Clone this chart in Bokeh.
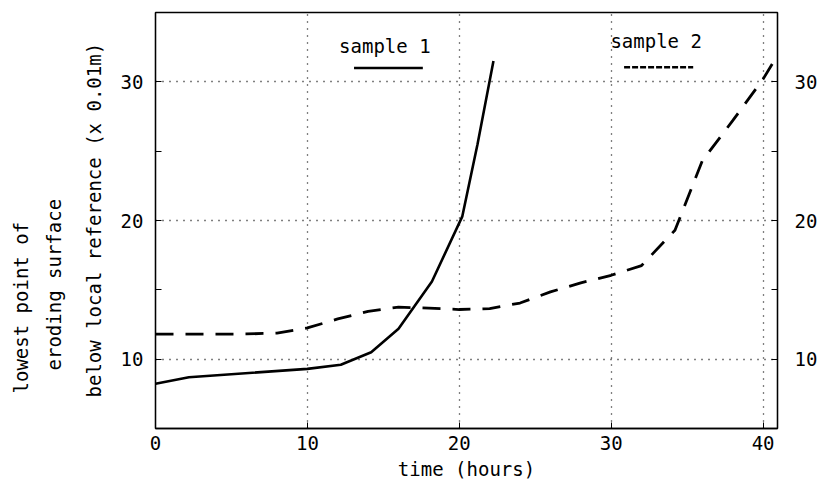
from bokeh.plotting import figure
from bokeh.models import Range1d, LinearAxis, FixedTicker, Label, Title
from bokeh.embed import file_html
from bokeh.resources import INLINE

# ---- data ----
sample1_time = [0, 2.2, 10, 12.2, 14.2, 16, 18.2, 20.2, 21.2, 22.25]
sample1_depth = [8.22, 8.7, 9.3, 9.6, 10.5, 12.2, 15.6, 20.3, 25.5, 31.5]

sample2_time = [0, 2, 4, 6, 8, 10, 12, 14, 16, 18, 20, 22, 24, 26, 28, 30, 32, 34.2, 36, 38, 40, 41]
sample2_depth = [11.8, 11.8, 11.8, 11.82, 11.88, 12.25, 12.9, 13.45, 13.75, 13.68, 13.58, 13.65,
                 14.05, 14.85, 15.5, 16.05, 16.75, 19.3, 24.3, 27.2, 30.2, 32.0]

x_ticks = [0, 10, 20, 30, 40]
y_ticks = [10, 20, 30]
y_minor = [15, 25]

x_title = "time (hours)"
y_title_lines = ["lowest point of", "eroding surface", "below local reference (x 0.01m)"]

FONT = "DejaVu Sans Mono"
FS = "19px"

p = figure(width=820, height=482, x_range=Range1d(0, 40.95), y_range=Range1d(5, 35),
           output_backend="svg", toolbar_location=None,
           min_border_left=155, min_border_right=40, min_border_top=12, min_border_bottom=54)
p.background_fill_color = "white"
p.border_fill_color = "white"
p.outline_line_color = "black"
p.outline_line_width = 1.3


def style_axis(ax, ticks, minor):
    ax.ticker = FixedTicker(ticks=ticks, minor_ticks=minor)
    ax.axis_line_color = "black"
    ax.axis_line_width = 1.3
    ax.major_tick_in = 6
    ax.major_tick_out = 0
    ax.minor_tick_in = 6 if minor else 0
    ax.minor_tick_out = 0
    ax.major_tick_line_color = "black"
    ax.minor_tick_line_color = "black"
    ax.major_label_text_font = FONT
    ax.major_label_text_font_size = FS
    ax.major_label_text_color = "black"


style_axis(p.xaxis[0], x_ticks, [])
p.xaxis[0].major_label_standoff = 7
style_axis(p.yaxis[0], y_ticks, y_minor)
p.yaxis[0].major_label_standoff = 12

right = LinearAxis()
style_axis(right, y_ticks, y_minor)
right.major_label_standoff = 17
p.add_layout(right, "right")

# grid
p.xgrid.ticker = FixedTicker(ticks=[10, 20, 30, 40])
p.ygrid.ticker = FixedTicker(ticks=y_ticks)
for g in (p.xgrid[0], p.ygrid[0]):
    g.grid_line_color = "black"
    g.grid_line_dash = "1 6"
    g.grid_line_width = 1.3

# data lines
p.line(sample1_time, sample1_depth, line_color="black", line_width=2.6)
p.line(sample2_time, sample2_depth, line_color="black", line_width=2.8, line_dash="18 12")

# legend (drawn like the original)
p.line([13.07, 17.6], [31.0, 31.0], line_color="black", line_width=2.6)
p.line([30.85, 35.4], [31.05, 31.05], line_color="black", line_width=2.6, line_dash="6 2")
for txt, x, y in [("sample 1", 15.1, 32.6), ("sample 2", 32.96, 32.97)]:
    p.add_layout(Label(x=x, y=y, text=txt, text_font=FONT, text_font_size=FS,
                       text_align="center", text_baseline="middle", text_color="black"))

# axis titles as side-panel titles
p.add_layout(Title(text=x_title, align="center", text_font=FONT, text_font_size=FS,
                   text_font_style="normal", text_color="black", standoff=6, offset=0), "below")

for txt, standoff, offset in [(y_title_lines[2], 25, 31),
                              (y_title_lines[1], 7, 58),
                              (y_title_lines[0], 11, 35)]:
    p.add_layout(Title(text=txt, align="left", text_font=FONT, text_font_size=FS,
                       text_font_style="normal", text_color="black",
                       standoff=standoff, offset=offset), "left")

open("out.html", "w").write(file_html(p, INLINE))
